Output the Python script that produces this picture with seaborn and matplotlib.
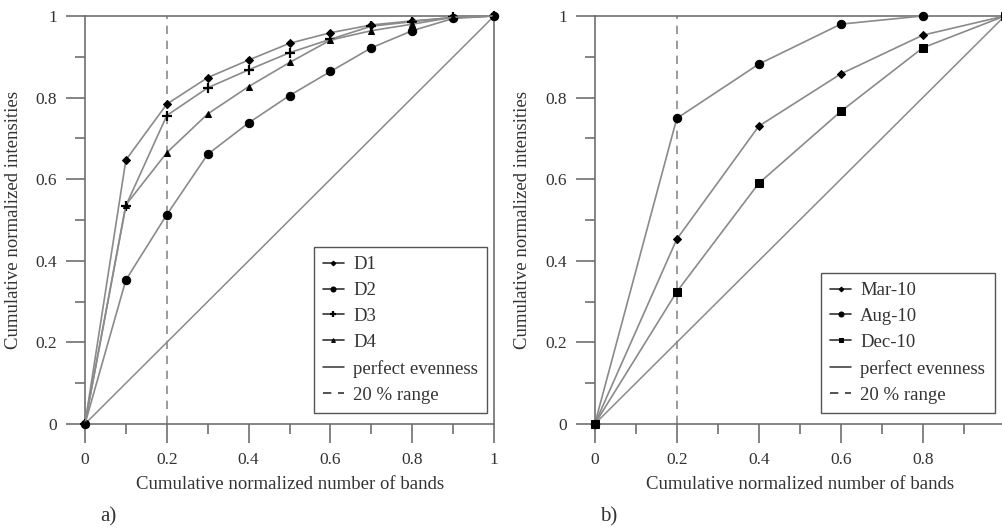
import matplotlib
matplotlib.use("Agg")
import matplotlib.pyplot as plt
from matplotlib.ticker import MultipleLocator, FuncFormatter
import seaborn as sns

# panel a) cumulative curves for four samples
bands_a = [0, 0.1, 0.2, 0.3, 0.4, 0.5, 0.6, 0.7, 0.8, 0.9, 1.0]
d1 = [0, 0.647, 0.784, 0.849, 0.892, 0.933, 0.959, 0.978, 0.988, 0.996, 1.0]
d2 = [0, 0.353, 0.513, 0.661, 0.738, 0.805, 0.864, 0.922, 0.964, 0.994, 1.0]
d3 = [0, 0.535, 0.756, 0.824, 0.868, 0.910, 0.943, 0.975, 0.986, 0.997, 1.0]
d4 = [0, 0.537, 0.665, 0.760, 0.827, 0.886, 0.941, 0.964, 0.980, 0.997, 1.0]

# panel b) cumulative curves for three dates
bands_b = [0, 0.2, 0.4, 0.6, 0.8, 1.0]
mar10 = [0, 0.453, 0.730, 0.858, 0.953, 1.0]
aug10 = [0, 0.749, 0.882, 0.980, 1.0, 1.0]
dec10 = [0, 0.324, 0.590, 0.766, 0.922, 1.0]

evenness = [0, 1]
range_x = 0.2

sns.set_style("ticks")
plt.rcParams['font.family'] = ['Liberation Serif', 'DejaVu Serif']
plt.rcParams['axes.edgecolor'] = '#707070'
plt.rcParams['axes.linewidth'] = 1.2

line_grey = '#8a8a8a'
text_col = '#333333'

fig = plt.figure(figsize=(10.03, 5.29), dpi=100)
ax_a = fig.add_axes([0.0847, 0.1985, 0.408, 0.7713])
ax_b = fig.add_axes([0.593, 0.1985, 0.4088, 0.7713])


def draw_series(ax, x, y, label, marker, size, mew=0.75):
    sns.lineplot(x=x, y=y, ax=ax, color=line_grey, lw=1.2, marker=marker,
                 markersize=size, markerfacecolor='k', markeredgecolor='k',
                 markeredgewidth=mew, label=label, clip_on=False, zorder=3)


draw_series(ax_a, bands_a, d1, 'D1', 'D', 4)
draw_series(ax_a, bands_a, d2, 'D2', 'o', 6)
draw_series(ax_a, bands_a, d3, 'D3', '+', 6.5, mew=1.6)
draw_series(ax_a, bands_a, d4, 'D4', '^', 4.5)

draw_series(ax_b, bands_b, mar10, 'Mar-10', 'D', 4)
draw_series(ax_b, bands_b, aug10, 'Aug-10', 'o', 6)
draw_series(ax_b, bands_b, dec10, 'Dec-10', 's', 6)

legend_anchor = {ax_a: (0.983, 0.027), ax_b: (0.975, 0.027)}

for ax in (ax_a, ax_b):
    sns.lineplot(x=evenness, y=evenness, ax=ax, color=line_grey, lw=1.1,
                 label='perfect evenness', zorder=2)
    ax.axvline(range_x, color=line_grey, lw=1.2, ls=(0, (5, 4)),
               label='20 % range', zorder=1)
    ax.set_xlim(0, 1)
    ax.set_ylim(0, 1)
    ax.xaxis.set_major_locator(MultipleLocator(0.2))
    ax.xaxis.set_minor_locator(MultipleLocator(0.1))
    ax.yaxis.set_major_locator(MultipleLocator(0.2))
    ax.yaxis.set_minor_locator(MultipleLocator(0.1))
    fmt = FuncFormatter(lambda v, p: f'{v:g}')
    ax.xaxis.set_major_formatter(fmt)
    ax.yaxis.set_major_formatter(fmt)
    ax.tick_params(which='major', direction='out', length=14, width=1.2,
                   color='#707070', labelsize=12.5, labelcolor=text_col, pad=6)
    ax.tick_params(which='minor', direction='out', length=7, width=1.2,
                   color='#707070')
    for s in ax.spines.values():
        s.set_visible(True)
        s.set_color('#707070')
    ax.set_xlabel('Cumulative normalized number of bands', fontsize=13.5,
                  color=text_col, labelpad=6)
    ax.set_ylabel('Cumulative normalized intensities', fontsize=13.5,
                  color=text_col, labelpad=10)
    leg = ax.legend(loc='lower right', bbox_to_anchor=legend_anchor[ax],
                    frameon=True, fancybox=False, framealpha=1,
                    edgecolor='#555555', fontsize=13.5, handlelength=1.1,
                    handletextpad=0.5, labelspacing=0.47, borderpad=0.5,
                    markerscale=0.6, borderaxespad=0)
    leg.get_frame().set_linewidth(1.0)
    for t in leg.get_texts():
        t.set_color(text_col)
    for h in leg.get_lines():
        h.set_color('#333333')

fig.text(0.1, 0.015, 'a)', fontsize=15, color=text_col)
fig.text(0.598, 0.015, 'b)', fontsize=15, color=text_col)

fig.savefig('out.png', dpi=100)
